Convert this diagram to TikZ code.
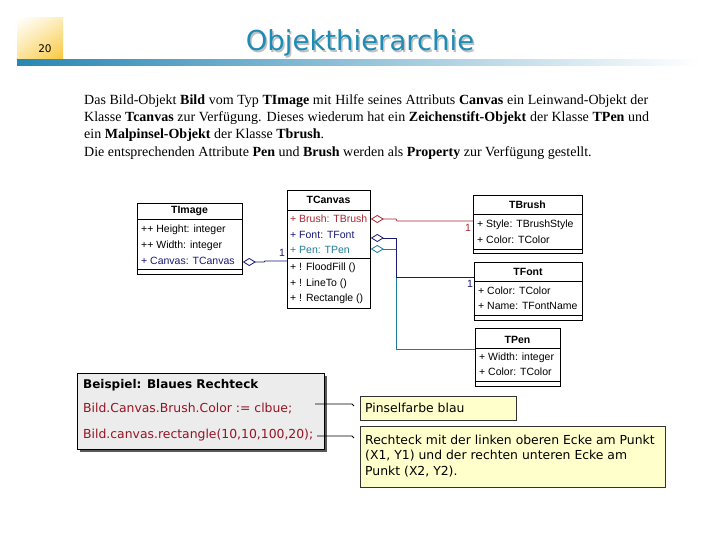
\documentclass[tikz,border=0pt]{standalone}
\usepackage{fontspec}
\setmainfont{Liberation Serif}
\newfontfamily\umlfont{Liberation Sans}
\newfontfamily\tahfont{DejaVu Sans}
\usetikzlibrary{arrows.meta,shadows,shadings}
\definecolor{titleblue}{RGB}{30,140,180}
\definecolor{barblue}{RGB}{40,135,180}
\definecolor{sqgold}{RGB}{249,198,55}
\definecolor{sqlightA}{RGB}{253,236,185}
\definecolor{sqlightB}{RGB}{252,226,150}
\definecolor{brushred}{RGB}{170,40,50}
\definecolor{fontnavy}{RGB}{25,25,120}
\definecolor{penteal}{RGB}{30,125,150}
\definecolor{codered}{RGB}{150,20,35}
\definecolor{notefill}{RGB}{255,255,204}
\definecolor{exfill}{RGB}{236,236,236}
\tikzset{
  umlbox/.style={draw=black, line width=0.8pt, fill=white, anchor=north west, inner sep=0pt},
  umltitle/.style={font=\umlfont\fontsize{10.5}{12}\selectfont\bfseries, inner sep=0pt},
  umltext/.style={font=\umlfont\fontsize{10.5}{12}\selectfont, anchor=west, inner sep=0pt},
  sepline/.style={line width=0.8pt},
  agg/.style={line width=0.8pt, {Diamond[open,length=13pt,width=8pt]}-},
  mult/.style={font=\umlfont\fontsize{10.5}{12}\selectfont, inner sep=0pt},
  para/.style={font=\fontsize{14}{16}\selectfont, inner sep=0pt, anchor=base west},
  extext/.style={font=\tahfont\fontsize{12.4}{14}\selectfont, anchor=west, inner sep=0pt},
  notebox/.style={draw=black!80, line width=0.7pt, fill=notefill, anchor=north west, inner sep=0pt},
  hook/.style={line width=0.8pt, black}
}
\begin{document}
\begin{tikzpicture}[x=1pt,y=-1pt]
\useasboundingbox (0,0) rectangle (720,540);
\fill[white] (0,0) rectangle (720,540);
% header
\shade[upper left=white, upper right=sqlightA, lower left=sqlightB, lower right=sqgold] (17,18) rectangle (63,61);
\node[font=\tahfont\fontsize{10.5}{12}\selectfont, inner sep=0pt] (pagenum) at (45,49) {20};
\shade[left color=barblue, right color=white] (17,60) rectangle (700,66);
\node[font=\tahfont\fontsize{27.5}{30}\selectfont, text=black!25, anchor=base, inner sep=0pt] (titleshadow) at (361.5,52.5) {Objekthierarchie};
\node[font=\tahfont\fontsize{27.5}{30}\selectfont, text=titleblue, anchor=base, inner sep=0pt] (title) at (360,51) {Objekthierarchie};
% paragraph
\node[para] (p1) at (84,105) {\makebox[564pt][s]{Das Bild-Objekt \textbf{Bild} vom Typ \textbf{TImage} mit Hilfe seines Attributs \textbf{Canvas} ein Leinwand-Objekt der}};
\node[para] (p2) at (84,122) {\makebox[565pt][s]{Klasse \textbf{Tcanvas} zur Verfügung. Dieses wiederum hat ein \textbf{Zeichenstift-Objekt} der Klasse \textbf{TPen} und}};
\node[para] (p3) at (84,139) {ein \textbf{Malpinsel-Objekt} der Klasse \textbf{Tbrush}.};
\node[para] (p4) at (84,157) {Die entsprechenden Attribute \textbf{Pen} und \textbf{Brush} werden als \textbf{Property} zur Verfügung gestellt.};
% TImage
\node[umlbox, minimum width=105pt, minimum height=71pt] (img) at (137,203) {};
\draw[sepline] (img.west |- 0,219) -- (img.east |- 0,219);
\draw[sepline] (img.west |- 0,269) -- (img.east |- 0,269);
\node[umltitle] (imgT) at (189.5,211) {TImage};
\node[umltext] (imgA1) at (141,230) {++ Height: integer};
\node[umltext] (imgA2) at (141,246) {++ Width: integer};
\node[umltext, text=fontnavy] (imgA3) at (141,261) {+ Canvas: TCanvas};
% TCanvas
\node[umlbox, minimum width=83pt, minimum height=118pt] (cv) at (287,190) {};
\draw[sepline] (cv.west |- 0,210) -- (cv.east |- 0,210);
\draw[sepline] (cv.west |- 0,258) -- (cv.east |- 0,258);
\node[umltitle] (cvT) at (328.5,200) {TCanvas};
\node[umltext, text=brushred] (cvA1) at (290,219) {+ Brush: TBrush};
\node[umltext, text=fontnavy] (cvA2) at (290,235) {+ Font: TFont};
\node[umltext, text=penteal] (cvA3) at (290,250) {+ Pen: TPen};
\node[umltext] (cvO1) at (290,268) {+ ! FloodFill ()};
\node[umltext] (cvO2) at (290,284) {+ ! LineTo ()};
\node[umltext] (cvO3) at (290,299) {+ ! Rectangle ()};
% TBrush
\node[umlbox, minimum width=109pt, minimum height=58pt] (br) at (473,195) {};
\draw[sepline] (br.west |- 0,214) -- (br.east |- 0,214);
\draw[sepline] (br.west |- 0,249) -- (br.east |- 0,249);
\node[umltitle] (brT) at (527.5,205) {TBrush};
\node[umltext] (brA1) at (477,225) {+ Style: TBrushStyle};
\node[umltext] (brA2) at (477,240) {+ Color: TColor};
% TFont
\node[umlbox, minimum width=108pt, minimum height=58pt] (fn) at (474,262) {};
\draw[sepline] (fn.west |- 0,281) -- (fn.east |- 0,281);
\draw[sepline] (fn.west |- 0,315) -- (fn.east |- 0,315);
\node[umltitle] (fnT) at (528,272) {TFont};
\node[umltext] (fnA1) at (478,291) {+ Color: TColor};
\node[umltext] (fnA2) at (478,306) {+ Name: TFontName};
% TPen
\node[umlbox, minimum width=85pt, minimum height=58pt] (pn) at (475,328) {};
\draw[sepline] (pn.west |- 0,348) -- (pn.east |- 0,348);
\draw[sepline] (pn.west |- 0,381) -- (pn.east |- 0,381);
\node[umltitle] (pnT) at (517.5,340) {TPen};
\node[umltext] (pnA1) at (479,358) {+ Width: integer};
\node[umltext] (pnA2) at (479,372) {+ Color: TColor};
% attachment points
\coordinate (imgCv) at (img.east |- 0,262);
\coordinate (cvIn) at (cv.west |- 0,261);
\coordinate (cvBr) at (cv.east |- 0,219);
\coordinate (cvFn) at (cv.east |- 0,238);
\coordinate (cvPn) at (cv.east |- 0,249);
\coordinate (brIn) at (br.west |- 0,221);
\coordinate (fnIn) at (fn.west |- 0,277);
\coordinate (pnIn) at (pn.west |- 0,349);
% connectors
\draw[agg, fontnavy] (imgCv) -- (264,262) -- (265,261) -- (cvIn);
\draw[agg, brushred] (cvBr) -- (396,219) -- (397,221) -- (brIn);
\draw[agg, penteal] (cvPn) -- (396,249) -- (396,349) -- (pnIn);
\draw[agg, fontnavy] (cvFn) -- (396,238) -- (396,277) -- (fnIn);
\node[mult, text=fontnavy] (m1) at (282,253) {1};
\node[mult, text=brushred] (m2) at (468,228) {1};
\node[mult, text=fontnavy] (m3) at (470,284) {1};
\node[mult, text=penteal] (m4) at (470,350) {.};
% example box
\node[draw=black, line width=0.8pt, fill=exfill, anchor=north west, inner sep=0pt,
      minimum width=247pt, minimum height=76pt,
      drop shadow={shadow xshift=3pt, shadow yshift=-3pt, fill=black!65, opacity=1}] (ex) at (77,373) {};
\node[extext, font=\tahfont\bfseries\fontsize{12}{14}\selectfont] (exT) at (83,385) {Beispiel: Blaues Rechteck};
\node[extext, text=codered] (ex1) at (83,409) {Bild.Canvas.Brush.Color := clbue;};
\node[extext, text=codered] (ex2) at (83,435) {Bild.canvas.rectangle(10,10,100,20);};
% notes
\node[notebox, minimum width=156pt, minimum height=24pt] (n1) at (360,396) {};
\node[extext] (n1t) at (365,408) {Pinselfarbe blau};
\node[notebox, minimum width=305pt, minimum height=61pt] (n2) at (360,426) {};
\node[extext] (n2a) at (365,440) {Rechteck mit der linken oberen Ecke am Punkt};
\node[extext] (n2b) at (365,456) {(X1, Y1) und der rechten unteren Ecke am};
\node[extext] (n2c) at (365,472) {Punkt (X2, Y2).};
% note connectors
\coordinate (h1s) at (315,404);
\coordinate (h1e) at (354,406);
\coordinate (h2s) at (317,436);
\coordinate (h2e) at (354,438);
\draw[hook] (h1s) -- (352,404) -- (h1e);
\draw[hook] (h2s) -- (352,436) -- (h2e);
\end{tikzpicture}
\end{document}
